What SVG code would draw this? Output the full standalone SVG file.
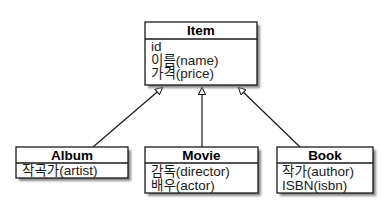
<svg xmlns="http://www.w3.org/2000/svg" width="381" height="208" viewBox="0 0 381 208">
<defs>
<style>
.shadow{fill:#8a8a8a;}
.box{fill:#ffffff;stroke:#1a1a1a;stroke-width:1.3;}
.sep{stroke:#1a1a1a;stroke-width:1.3;}
.title{font-family:"Liberation Sans","Noto Sans CJK KR",sans-serif;font-size:13.5px;font-weight:bold;text-anchor:middle;fill:#000;}
.attr{font-family:"Liberation Sans","Noto Sans CJK KR",sans-serif;font-size:13.5px;fill:#1a1a1a;}
.edge{stroke:#1a1a1a;stroke-width:1.2;fill:none;marker-end:url(#tri);}
</style>
<filter id="blur" x="-10%" y="-10%" width="130%" height="140%"><feGaussianBlur stdDeviation="0.8"/></filter>
<marker id="tri" viewBox="0 0 10 10" refX="10" refY="5" markerWidth="9" markerHeight="8" markerUnits="userSpaceOnUse" orient="auto">
<path d="M0.5,0.5 L9.5,5 L0.5,9.5 Z" fill="#fff" stroke="#1a1a1a" stroke-width="1.3"/>
</marker>
</defs>
<g id="connectors">
<line class="edge" x1="93" y1="147" x2="163" y2="87"/>
<line class="edge" x1="202" y1="147" x2="202" y2="87"/>
<line class="edge" x1="300" y1="147" x2="238" y2="87"/>
</g>
<g id="item">
<rect class="shadow" x="148" y="25" width="112" height="63" filter="url(#blur)"/>
<rect class="box" x="145" y="22" width="112" height="63"/>
<line class="sep" x1="145" y1="39" x2="257" y2="39"/>
<text class="title" x="201" y="35">Item</text>
<text class="attr" x="151" y="51">id</text>
<text class="attr" x="151" y="64.5">이름(name)</text>
<text class="attr" x="151" y="78">가격(price)</text>
</g>
<g id="album">
<rect class="shadow" x="19" y="150" width="112" height="31" filter="url(#blur)"/>
<rect class="box" x="16" y="147" width="112" height="31"/>
<line class="sep" x1="16" y1="163" x2="128" y2="163"/>
<text class="title" x="72" y="160">Album</text>
<text class="attr" x="22" y="175">작곡가(artist)</text>
</g>
<g id="movie">
<rect class="shadow" x="148" y="150" width="113" height="46" filter="url(#blur)"/>
<rect class="box" x="145" y="147" width="113" height="46"/>
<line class="sep" x1="145" y1="163" x2="258" y2="163"/>
<text class="title" x="201.5" y="160">Movie</text>
<text class="attr" x="151" y="176">감독(director)</text>
<text class="attr" x="151" y="190">배우(actor)</text>
</g>
<g id="book">
<rect class="shadow" x="280" y="150" width="96" height="46" filter="url(#blur)"/>
<rect class="box" x="277" y="147" width="96" height="46"/>
<line class="sep" x1="277" y1="163" x2="373" y2="163"/>
<text class="title" x="325" y="160">Book</text>
<text class="attr" x="282" y="176">작가(author)</text>
<text class="attr" x="282" y="190">ISBN(isbn)</text>
</g>
</svg>
